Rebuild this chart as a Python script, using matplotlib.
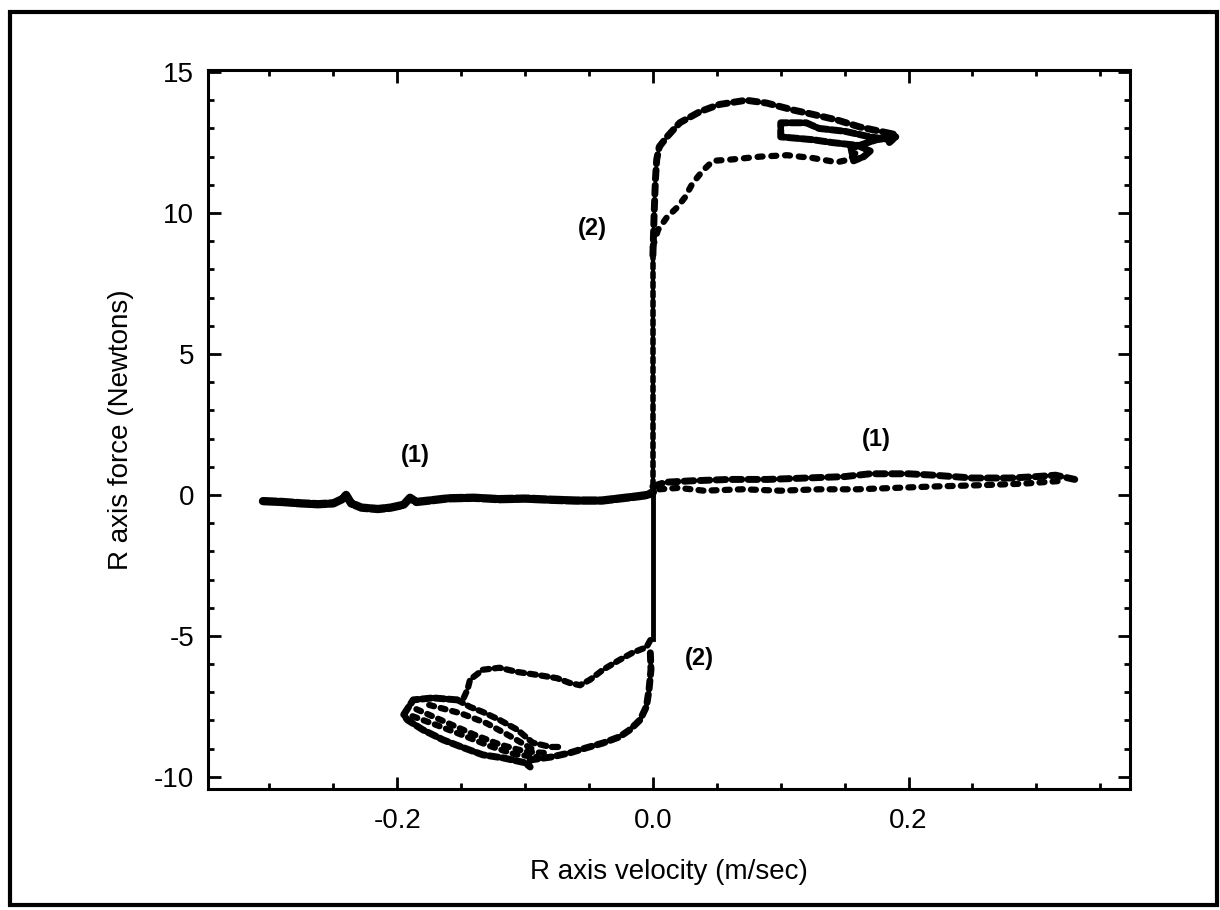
import matplotlib
matplotlib.use("Agg")
import matplotlib.pyplot as plt
from matplotlib.patches import Rectangle
from matplotlib.ticker import MultipleLocator

# ---- data (velocity m/s, force N) ----
# (1) low-force branch, negative velocities
neg_branch_x = [-0.305, -0.29, -0.275, -0.262, -0.25, -0.243, -0.24, -0.236, -0.228,
                -0.215, -0.205, -0.195, -0.19, -0.185, -0.175, -0.16, -0.14, -0.12,
                -0.10, -0.08, -0.06, -0.04, -0.025, -0.012, -0.004, 0.0]
neg_branch_y = [-0.22, -0.25, -0.30, -0.33, -0.30, -0.15, 0.0, -0.30, -0.45,
                -0.50, -0.45, -0.35, -0.10, -0.25, -0.20, -0.12, -0.10, -0.15,
                -0.13, -0.17, -0.20, -0.20, -0.12, -0.05, 0.0, 0.10]

# (1) low-force branch, positive velocities (two strands)
pos_upper_x = [0.0, 0.01, 0.03, 0.06, 0.09, 0.12, 0.15, 0.17, 0.20, 0.22, 0.25, 0.28, 0.30, 0.315, 0.33]
pos_upper_y = [0.30, 0.45, 0.50, 0.55, 0.55, 0.60, 0.65, 0.75, 0.75, 0.70, 0.60, 0.60, 0.65, 0.70, 0.55]
pos_lower_x = [0.005, 0.02, 0.04, 0.07, 0.10, 0.13, 0.16, 0.19, 0.22, 0.26, 0.29, 0.32]
pos_lower_y = [0.20, 0.25, 0.15, 0.20, 0.15, 0.20, 0.20, 0.25, 0.30, 0.35, 0.40, 0.50]

# vertical stick segment at zero velocity
stick_solid_y = [-5.1, 0.0]
stick_dotted_y = [0.0, 9.0]

# (2) upper loop, outer path
up_outer_x = [0.000, 0.001, 0.002, 0.003, 0.005, 0.011, 0.021, 0.037, 0.052, 0.073,
              0.089, 0.110, 0.125, 0.144, 0.162, 0.188]
up_outer_y = [8.5, 10.0, 11.2, 11.9, 12.35, 12.7, 13.2, 13.6, 13.85, 14.0,
              13.9, 13.65, 13.5, 13.3, 13.05, 12.8]

# (2) upper loop, inner path
up_inner_x = [0.000, 0.004, 0.011, 0.019, 0.025, 0.031, 0.039, 0.047, 0.062, 0.084,
              0.105, 0.125, 0.144, 0.154, 0.160]
up_inner_y = [8.8, 9.4, 9.85, 10.2, 10.55, 11.05, 11.5, 11.85, 11.9, 12.0,
              12.05, 11.95, 11.8, 11.9, 12.2]

# upper cluster of small loops
up_clust_x = [0.188, 0.185, 0.170, 0.150, 0.130, 0.120, 0.100, 0.100, 0.125, 0.140,
              0.160, 0.170, 0.165, 0.157, 0.155, 0.175, 0.190, 0.185]
up_clust_y = [12.8, 12.6, 12.7, 12.9, 13.0, 13.2, 13.2, 12.7, 12.6, 12.5,
              12.4, 12.2, 12.0, 11.85, 12.3, 12.6, 12.7, 12.5]

# (2) lower loop, hump path
lo_hump_x = [-0.148, -0.145, -0.143, -0.133, -0.120, -0.106, -0.091, -0.075, -0.065,
             -0.057, -0.049, -0.039, -0.026, -0.016, -0.005, -0.002]
lo_hump_y = [-7.2, -6.9, -6.55, -6.2, -6.13, -6.28, -6.38, -6.5, -6.67,
             -6.75, -6.55, -6.2, -5.85, -5.6, -5.4, -5.15]

# (2) lower loop, outer path
lo_outer_x = [-0.002, -0.0015, -0.003, -0.005, -0.010, -0.018, -0.026, -0.039, -0.052,
              -0.065, -0.080, -0.096, -0.096]
lo_outer_y = [-5.6, -6.2, -6.9, -7.5, -7.98, -8.33, -8.58, -8.8, -8.97,
              -9.15, -9.3, -9.4, -9.6]

# lower cluster strands
lo_top_x = [-0.153, -0.172, -0.1875, -0.195, -0.192, -0.180, -0.164, -0.148, -0.133,
            -0.117, -0.100, -0.096]
lo_top_y = [-7.27, -7.2, -7.27, -7.8, -7.98, -8.33, -8.69, -8.97, -9.22,
            -9.33, -9.5, -9.65]
lo_down_x = [-0.153, -0.143, -0.133, -0.120, -0.106, -0.094, -0.080, -0.070]
lo_down_y = [-7.27, -7.52, -7.7, -7.98, -8.33, -8.79, -8.94, -8.94]
lo_mid1_x = [-0.185, -0.180, -0.160, -0.140, -0.120, -0.100, -0.085]
lo_mid1_y = [-7.6, -7.7, -8.1, -8.5, -8.85, -9.1, -9.15]
lo_mid2_x = [-0.175, -0.150, -0.130, -0.110, -0.095]
lo_mid2_y = [-7.45, -7.75, -8.1, -8.6, -9.0]
lo_mid3_x = [-0.188, -0.170, -0.150, -0.128, -0.108, -0.090]
lo_mid3_y = [-7.85, -8.15, -8.5, -8.9, -9.2, -9.3]

labels = [("(1)", -0.186, 1.4), ("(1)", 0.175, 1.95),
          ("(2)", -0.047, 9.45), ("(2)", 0.036, -5.8)]


def dotted(ax, x, y, lw=4.5, on=1.3, off=0.7):
    ax.plot(x, y, color="black", lw=lw, linestyle=(0, (on, off)),
            dash_capstyle="round", solid_capstyle="round")


plt.rcParams["font.family"] = ["Liberation Sans", "DejaVu Sans"]

fig = plt.figure(figsize=(12.2, 9.1), dpi=100)
ax = fig.add_axes([0.1705, 0.133, 0.7555, 0.79])

# low-force (1) branches
dotted(ax, neg_branch_x, neg_branch_y, lw=6, on=1.6, off=0.4)
dotted(ax, pos_upper_x, pos_upper_y, lw=5, on=1.4, off=0.9)
dotted(ax, pos_lower_x, pos_lower_y, lw=4.5, on=0.8, off=1.3)

# stick segment
ax.plot([0, 0], stick_solid_y, color="black", lw=3.5)
dotted(ax, [0, 0], stick_dotted_y, lw=4, on=0.9, off=0.8)

# upper loop
dotted(ax, up_outer_x, up_outer_y, lw=5, on=1.3, off=0.9)
dotted(ax, up_inner_x, up_inner_y, lw=4.5, on=0.8, off=1.4)
dotted(ax, up_clust_x, up_clust_y, lw=5, on=1.5, off=0.5)

# lower loop
dotted(ax, lo_hump_x, lo_hump_y, lw=4.5, on=1.0, off=0.9)
dotted(ax, lo_outer_x, lo_outer_y, lw=5, on=1.2, off=0.8)
dotted(ax, lo_top_x, lo_top_y, lw=5, on=1.3, off=0.6)
dotted(ax, lo_down_x, lo_down_y, lw=4.5, on=1.0, off=0.9)
dotted(ax, lo_mid1_x, lo_mid1_y, lw=4.5, on=0.8, off=1.1)
dotted(ax, lo_mid2_x, lo_mid2_y, lw=4.5, on=0.8, off=1.1)
dotted(ax, lo_mid3_x, lo_mid3_y, lw=4.5, on=0.8, off=1.1)

for txt, x, y in labels:
    ax.text(x, y, txt, ha="center", va="center", fontsize=17, fontweight="bold",
            family=["Liberation Sans Narrow", "Liberation Sans", "DejaVu Sans"])

ax.set_xlim(-0.348, 0.373)
ax.set_ylim(-10.43, 15.07)
ax.xaxis.set_major_locator(MultipleLocator(0.2))
ax.xaxis.set_minor_locator(MultipleLocator(0.05))
ax.yaxis.set_major_locator(MultipleLocator(5))
ax.yaxis.set_minor_locator(MultipleLocator(1))
ax.set_xticks([-0.2, 0.0, 0.2])
ax.set_xticklabels(["-0.2", "0.0", "0.2"])
ax.set_yticks([-10, -5, 0, 5, 10, 15])
ax.set_yticklabels(["-10", "-5", "0", "5", "10", "15"])
ax.tick_params(which="both", direction="in", top=True, right=True, width=2)
ax.tick_params(which="major", length=9, labelsize=20)
ax.tick_params(axis="x", which="major", pad=14)
ax.tick_params(axis="y", which="major", pad=10)
ax.tick_params(which="minor", length=4.5)
for s in ax.spines.values():
    s.set_linewidth(2.2)

ax.set_xlabel("R axis velocity (m/sec)", fontsize=20, labelpad=18)
ax.set_ylabel("R axis force (Newtons)", fontsize=20, labelpad=14)

# scanned page frame
fig.patches.append(Rectangle((0.0082, 0.0055), 0.9893, 0.9813, transform=fig.transFigure,
                             fill=False, lw=3, edgecolor="black"))

fig.savefig("out.png", dpi=100)
